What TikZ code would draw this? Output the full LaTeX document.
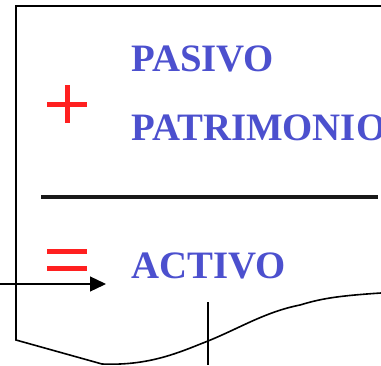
\documentclass[tikz,border=0pt]{standalone}
\usepackage{fontspec}
\setmainfont{Liberation Serif}
\usetikzlibrary{arrows.meta}
\definecolor{txtblue}{RGB}{76,80,206}
\definecolor{opred}{RGB}{255,32,32}
\begin{document}
\begin{tikzpicture}[x=1pt,y=-1pt,
  word/.style={anchor=base west,inner sep=0pt,text=txtblue,font=\fontsize{38.8}{40}\selectfont\bfseries},
  opbar/.style={draw=opred,line width=4.5pt},
  frame/.style={draw=black,line width=1.6pt},
  thin/.style={draw=black,line width=1.3pt}]
\useasboundingbox (0,0) rectangle (381,365);
% frame
\draw[frame] (381,6) -- (16,6) -- (16,340) -- (102,364)
  .. controls (150,366) and (180,352) .. (208,341)
  .. controls (240,328) and (265,312) .. (300,305)
  .. controls (320,299) and (335,296) .. (381,293);
% texts
\node[word] (pasivo) at (131,71.7) {PASIVO};
\node[word] (patrimonio) at (131,140) {PATRIMONIO};
\node[word] (activo) at (131,278.3) {ACTIVO};
% plus
\draw[opbar] (47.3,104.3) -- (86.7,104.3);
\draw[opbar] (67.7,85) -- (67.7,123.3);
% rule
\draw[draw=black!90,line width=4.5pt] (41,197) -- (378,197);
% equal
\draw[opbar] (47.3,251.5) -- (86.7,251.5);
\draw[opbar] (47.3,268.5) -- (86.7,268.5);
% arrow
\coordinate (astart) at (0,284);
\coordinate (aend) at (106,284);
\draw[thin,-{Triangle[length=16pt,width=15pt]}] (astart) -- (aend);
% small vertical line
\coordinate (vtop) at (208,302);
\coordinate (vbot) at (208,365);
\draw[thin] (vtop) -- (vbot);
\end{tikzpicture}
\end{document}
